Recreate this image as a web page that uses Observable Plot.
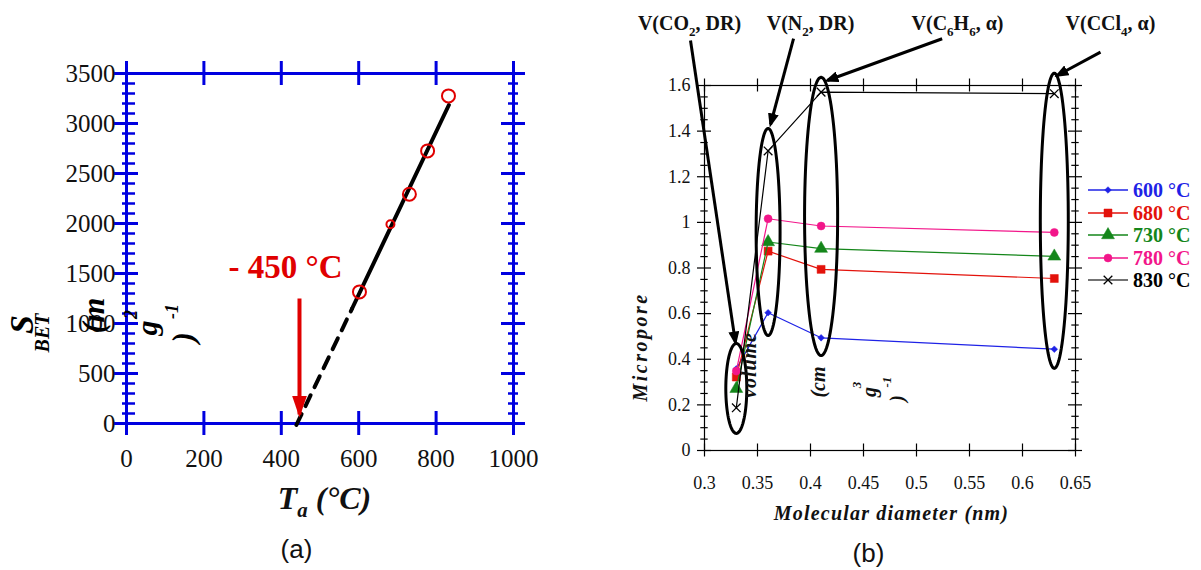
<!DOCTYPE html>
<html><head><meta charset="utf-8">
<script src="https://cdn.jsdelivr.net/npm/d3@7"></script>
<script src="https://cdn.jsdelivr.net/npm/@observablehq/plot@0.6"></script>
<style>
body{margin:0;background:#fff;}
#wrap{position:relative;width:1201px;height:570px;overflow:hidden;background:#fff;}
</style></head><body><div id="wrap"></div>
<script>
// ---------- Panel (a) data ----------
const annealT = [602, 682, 731, 778, 832];          // Ta (°C)
const sBET = [1316, 1993, 2293, 2726, 3276];        // S_BET (m2 g-1)
const fitDashT = [439, 583], fitDashS = [-15, 1150];
const fitSolidT = [583, 833], fitSolidS = [1150, 3185];
const onsetT = 447, onsetS = [1250, 90];
const xTicksA = [0, 200, 400, 600, 800, 1000];
const yTicksA = [0, 500, 1000, 1500, 2000, 2500, 3000, 3500];

// ---------- Panel (b) data ----------
const diameters = [0.33, 0.36, 0.41, 0.63];
const vol600 = [0.358, 0.604, 0.494, 0.444];
const vol680 = [0.322, 0.874, 0.794, 0.754];
const vol730 = [0.271, 0.914, 0.885, 0.851];
const vol780 = [0.348, 1.016, 0.984, 0.956];
const vol830 = [0.187, 1.313, 1.571, 1.564];
const seriesNames = ["600 °C", "680 °C", "730 °C", "780 °C", "830 °C"];
const xTicksB = [0.3, 0.35, 0.4, 0.45, 0.5, 0.55, 0.6, 0.65];
const yTicksB = [0, 0.2, 0.4, 0.6, 0.8, 1, 1.2, 1.4, 1.6];
// annotation ellipses (data units)
const ellCx = [0.33, 0.36, 0.41, 0.63];
const ellCy = [0.272, 0.958, 1.026, 1.007];
const ellRx = [0.0099, 0.0113, 0.0156, 0.0132];
const ellRy = [0.197, 0.454, 0.610, 0.647];
// annotation arrows (data units)
const arrX1 = [0.2868, 0.384, 0.5242, 0.6736];
const arrY1 = [1.797, 1.805, 1.805, 1.746];
const arrX2 = [0.3292, 0.3623, 0.4158, 0.6327];
const arrY2 = [0.473, 1.429, 1.622, 1.644];
const arrLabels = ["V(CO_{2}, DR)", "V(N_{2}, DR)", "V(C_{6}H_{6}, α)", "V(CCl_{4}, α)"];

// ---------- styles ----------
const blueA = "#0000e0", redA = "#e00000";
const serif = "'Liberation Serif', 'Times New Roman', serif";
const sans = "'Liberation Sans', Arial, sans-serif";
const sColors = ["#1e22e6", "#e3120b", "#14861a", "#f2168a", "#000000"];
const sSymbols = ["diamond2", "square", "triangle", "circle", "times"];
const sR = [3, 4.5, 4.8, 4, 4];

function label(text, ax, ay, m, off, o = {}) {
  return Plot.text([text], {text: d => d, frameAnchor: "top-left", dx: ax - off - m.left, dy: ay - m.top,
    textAnchor: "middle", lineAnchor: "middle", ...o});
}

// ================= Panel (a) =================
const mA = {left: 126, right: 87, top: 73, bottom: 147};
const ptsA = annealT.map((t, i) => ({t, s: sBET[i], i}));
const minorA = d3.range(0, 36).map(i => i * 100).filter(v => v % 500 !== 0);
const bi = {fontWeight: "bold", fontStyle: "italic", rotate: -90};
const panelA = Plot.plot({
  width: 600, height: 570,
  marginLeft: mA.left, marginRight: mA.right, marginTop: mA.top, marginBottom: mA.bottom,
  x: {domain: [0, 1000], axis: null},
  y: {domain: [0, 3500], axis: null},
  style: {background: "transparent", fontFamily: serif, fontSize: "25px", overflow: "visible"},
  marks: [
    Plot.frame({stroke: blueA, strokeWidth: 3}),
    Plot.ruleX(xTicksA, {x: d => d, y1: () => 0, y2: () => 0, insetTop: -12, insetBottom: -12, stroke: blueA, strokeWidth: 3}),
    Plot.ruleX(xTicksA, {x: d => d, y1: () => 3500, y2: () => 3500, insetTop: -12, insetBottom: -12, stroke: blueA, strokeWidth: 3}),
    Plot.ruleY(yTicksA, {y: d => d, x1: () => 0, x2: () => 0, insetLeft: -12, insetRight: -12, stroke: blueA, strokeWidth: 3}),
    Plot.ruleY(yTicksA, {y: d => d, x1: () => 1000, x2: () => 1000, insetLeft: -12, insetRight: -12, stroke: blueA, strokeWidth: 3}),
    Plot.ruleY(minorA, {y: d => d, x1: () => 0, x2: () => 0, insetLeft: -4, insetRight: -9, stroke: blueA, strokeWidth: 2.5}),
    Plot.ruleY(minorA, {y: d => d, x1: () => 1000, x2: () => 1000, insetLeft: -5, insetRight: -5, stroke: blueA, strokeWidth: 2.5}),
    Plot.text(xTicksA, {x: d => d, text: d => String(d), frameAnchor: "bottom", dy: 35, textAnchor: "middle", lineAnchor: "middle", fill: "#111"}),
    Plot.text(yTicksA, {y: d => d, text: d => String(d), frameAnchor: "left", dx: -11, textAnchor: "end", lineAnchor: "middle", fill: "#111"}),
    Plot.line(fitDashT.map((t, i) => ({t, s: fitDashS[i]})), {x: "t", y: "s", stroke: "black", strokeWidth: 4, strokeDasharray: "12,9"}),
    Plot.line(fitSolidT.map((t, i) => ({t, s: fitSolidS[i]})), {x: "t", y: "s", stroke: "black", strokeWidth: 4}),
    Plot.dot(ptsA.filter(d => d.i !== 1), {x: "t", y: "s", r: 6.5, stroke: redA, strokeWidth: 2, fill: "none"}),
    Plot.dot(ptsA.filter(d => d.i === 1), {x: "t", y: "s", r: 4, stroke: redA, strokeWidth: 2, fill: "none"}),
    Plot.link([0], {x1: () => onsetT, x2: () => onsetT, y1: () => onsetS[0], y2: () => onsetS[1], stroke: redA, strokeWidth: 4}),
    label("- 450 °C", 285, 267, mA, 0, {fontSize: 33, fontWeight: "bold", fill: redA}),
    label("T_{a} (°C)", 324, 498, mA, 0, {fontSize: 32, fontWeight: "bold", fontStyle: "italic", fill: "#111"}),
    label("(a)", 296, 549, mA, 0, {fontSize: 26, fontFamily: sans, fill: "#111"}),
    label("S", 21.5, 324, mA, 0, {...bi, fontSize: 34}),
    label("BET", 42.5, 332.5, mA, 0, {...bi, fontSize: 20}),
    label("(m", 93, 315, mA, 0, {...bi, fontSize: 32}),
    label("2", 131, 314, mA, 0, {...bi, fontSize: 18}),
    label("g", 147, 327.5, mA, 0, {...bi, fontSize: 30}),
    label("-1", 172, 311, mA, 0, {...bi, fontSize: 18}),
    label(")", 183, 337, mA, 0, {...bi, fontSize: 32})
  ]
});

// ================= Panel (b) =================
const offB = 600;
const mB = {left: 104, right: 126, top: 85, bottom: 120};
const seriesVals = [vol600, vol680, vol730, vol780, vol830];
const minorB = d3.range(0, 33).filter(i => i % 4 !== 0).map(i => i * 0.05);
const ellPts = [];
ellCx.forEach((cx, k) => {
  for (let j = 0; j <= 96; j++) {
    const a = (j / 96) * 2 * Math.PI;
    ellPts.push({k, x: cx + ellRx[k] * Math.cos(a), y: ellCy[k] + ellRy[k] * Math.sin(a)});
  }
});
const arrows = arrX1.map((x1, i) => ({x1, y1: arrY1[i], x2: arrX2[i], y2: arrY2[i]}));
const seriesMarks = [];
seriesVals.forEach((vals, s) => {
  const rows = diameters.map((d, i) => ({d, v: vals[i]}));
  seriesMarks.push(Plot.line(rows, {x: "d", y: "v", stroke: sColors[s], strokeWidth: 1.2}));
  const isStroke = sSymbols[s] === "times";
  seriesMarks.push(Plot.dot(rows, {x: "d", y: "v", symbol: sSymbols[s], r: sR[s],
    fill: isStroke ? "none" : sColors[s], stroke: sColors[s], strokeWidth: isStroke ? 1.3 : 0.5}));
});
const biB = {fontWeight: "bold", fontStyle: "italic", rotate: -90, fontSize: 20, fill: "#111"};
const panelB = Plot.plot({
  width: 601, height: 570,
  marginLeft: mB.left, marginRight: mB.right, marginTop: mB.top, marginBottom: mB.bottom,
  x: {domain: [0.3, 0.65], axis: null},
  y: {domain: [0, 1.6], axis: null},
  style: {background: "transparent", fontFamily: serif, fontSize: "18px", overflow: "visible"},
  marks: [
    Plot.frame({stroke: "black", strokeWidth: 1.2}),
    Plot.ruleX(xTicksB, {x: d => d, y1: () => 0, y2: () => 0, insetTop: -6.5, insetBottom: -6.5, stroke: "black", strokeWidth: 1.2}),
    Plot.ruleX(xTicksB, {x: d => d, y1: () => 1.6, y2: () => 1.6, insetTop: -6.5, insetBottom: -6.5, stroke: "black", strokeWidth: 1.2}),
    Plot.ruleY(yTicksB, {y: d => d, x1: () => 0.3, x2: () => 0.3, insetLeft: -7, insetRight: -7, stroke: "black", strokeWidth: 1.2}),
    Plot.ruleY(yTicksB, {y: d => d, x1: () => 0.65, x2: () => 0.65, insetLeft: -7, insetRight: -7, stroke: "black", strokeWidth: 1.2}),
    Plot.ruleY(minorB, {y: d => d, x1: () => 0.3, x2: () => 0.3, insetLeft: -3.7, insetRight: -3.7, stroke: "black", strokeWidth: 1.2}),
    Plot.ruleY(minorB, {y: d => d, x1: () => 0.65, x2: () => 0.65, insetLeft: -3.7, insetRight: -3.7, stroke: "black", strokeWidth: 1.2}),
    Plot.text(xTicksB, {x: d => d, text: d => String(d), frameAnchor: "bottom", dy: 33, textAnchor: "middle", lineAnchor: "middle", fill: "#111"}),
    Plot.text(yTicksB, {y: d => d, text: d => String(d), frameAnchor: "left", dx: -14, textAnchor: "end", lineAnchor: "middle", fill: "#111"}),
    ...seriesMarks,
    Plot.line(ellPts, {x: "x", y: "y", z: "k", stroke: "black", strokeWidth: 3}),
    Plot.link(arrows, {x1: "x1", y1: "y1", x2: "x2", y2: "y2", stroke: "black", strokeWidth: 3}),
    ...arrLabels.map((t, i) => label(t, [689, 810, 957, 1110][i], 23.5, mB, offB, {fontSize: 20, fontWeight: "bold", fill: "#111"})),
    label("Molecular diameter (nm)", 891, 513, mB, offB, {fontSize: 20, fontWeight: "bold", fontStyle: "italic", fill: "#111"}),
    label("(b)", 868, 553, mB, offB, {fontSize: 26, fontFamily: sans, fill: "#111"}),
    label("Micropore", 640, 346.5, mB, offB, biB),
    label("volume", 749.5, 364.5, mB, offB, biB),
    label("(cm", 818.5, 381.5, mB, offB, biB),
    label("3", 856.5, 384.5, mB, offB, {...biB, fontSize: 13}),
    label("g", 869.5, 391.5, mB, offB, biB),
    label("-1", 886, 381.7, mB, offB, {...biB, fontSize: 13}),
    label(")", 897, 398, mB, offB, biB)
  ]
});

// ---------- post-processing: sub/superscripts, arrowheads, spacing ----------
const NS = "http://www.w3.org/2000/svg";
function applySubs(svg) {
  svg.querySelectorAll("text").forEach(t => {
    const s = t.textContent;
    if (!/[_^]\{/.test(s)) return;
    t.textContent = "";
    const re = /([_^])\{([^}]*)\}/g;
    let last = 0, m, shift = 0;
    const add = (txt, cls) => {
      if (!txt) return;
      const ts = document.createElementNS(NS, "tspan");
      if (cls === "_") { ts.setAttribute("font-size", "65%"); ts.setAttribute("dy", "0.42em"); shift = 0.273; }
      else if (cls === "^") { ts.setAttribute("font-size", "65%"); ts.setAttribute("dy", "-0.6em"); shift = -0.39; }
      else if (shift !== 0) { ts.setAttribute("dy", (-shift) + "em"); shift = 0; }
      ts.textContent = txt;
      t.appendChild(ts);
    };
    while ((m = re.exec(s))) { add(s.slice(last, m.index), null); add(m[2], m[1]); last = re.lastIndex; }
    add(s.slice(last), null);
  });
}
function addHeads(svg, id, color, len, wid) {
  const defs = document.createElementNS(NS, "defs");
  const mk = document.createElementNS(NS, "marker");
  mk.setAttribute("id", id);
  mk.setAttribute("markerUnits", "userSpaceOnUse");
  mk.setAttribute("markerWidth", len); mk.setAttribute("markerHeight", wid);
  mk.setAttribute("viewBox", `0 0 ${len} ${wid}`);
  mk.setAttribute("refX", len - 3); mk.setAttribute("refY", wid / 2);
  mk.setAttribute("orient", "auto");
  const p = document.createElementNS(NS, "path");
  p.setAttribute("d", `M0,0L${len},${wid / 2}L0,${wid}Z`);
  p.setAttribute("fill", color);
  mk.appendChild(p); defs.appendChild(mk); svg.insertBefore(defs, svg.firstChild);
  svg.querySelectorAll('g[aria-label="link"] path').forEach(el => el.setAttribute("marker-end", `url(#${id})`));
}
const spacing = {"Micropore": "2.5px", "volume": "1px", "Molecular diameter (nm)": "1.2px"};
[panelA, panelB].forEach(svg => {
  applySubs(svg);
  svg.querySelectorAll("text").forEach(t => { if (spacing[t.textContent]) t.setAttribute("letter-spacing", spacing[t.textContent]); });
});
addHeads(panelA, "headA", redA, 22, 15);
addHeads(panelB, "headB", "black", 14, 11);

const wrap = document.getElementById("wrap");
[[panelA, 0], [panelB, offB]].forEach(([svg, left]) => {
  svg.style.position = "absolute"; svg.style.left = left + "px"; svg.style.top = "0px";
  wrap.appendChild(svg);
});

// ---------- legend for panel (b) ----------
const leg = d3.select(wrap).append("div").style("position", "absolute").style("left", "1088px").style("top", "0px");
const d3sym = {diamond2: d3.symbolDiamond2, square: d3.symbolSquare, triangle: d3.symbolTriangle, circle: d3.symbolCircle, times: d3.symbolTimes};
seriesNames.forEach((name, i) => {
  const row = leg.append("div").style("position", "absolute").style("left", "0px")
    .style("top", (190 + i * 22.5 - 10) + "px").style("height", "20px")
    .style("display", "flex").style("align-items", "center").style("white-space", "nowrap");
  const sv = row.append("svg").attr("width", 40).attr("height", 20);
  sv.append("line").attr("x1", 0).attr("x2", 40).attr("y1", 10).attr("y2", 10)
    .attr("stroke", i === 4 ? "#444" : sColors[i]).attr("stroke-width", 1.5);
  const stroke = sSymbols[i] === "times";
  sv.append("path").attr("transform", "translate(20,10)")
    .attr("d", d3.symbol(d3sym[sSymbols[i]], Math.PI * sR[i] * sR[i])())
    .attr("fill", stroke ? "none" : sColors[i]).attr("stroke", sColors[i]).attr("stroke-width", stroke ? 1.3 : 0.5);
  row.append("span").text(name).style("margin-left", "5px").style("font-family", serif)
    .style("font-weight", "bold").style("font-size", "20px").style("color", sColors[i])
    .style("line-height", "18px").style("display", "inline-block").style("height", "18px");
});
</script></body></html>
